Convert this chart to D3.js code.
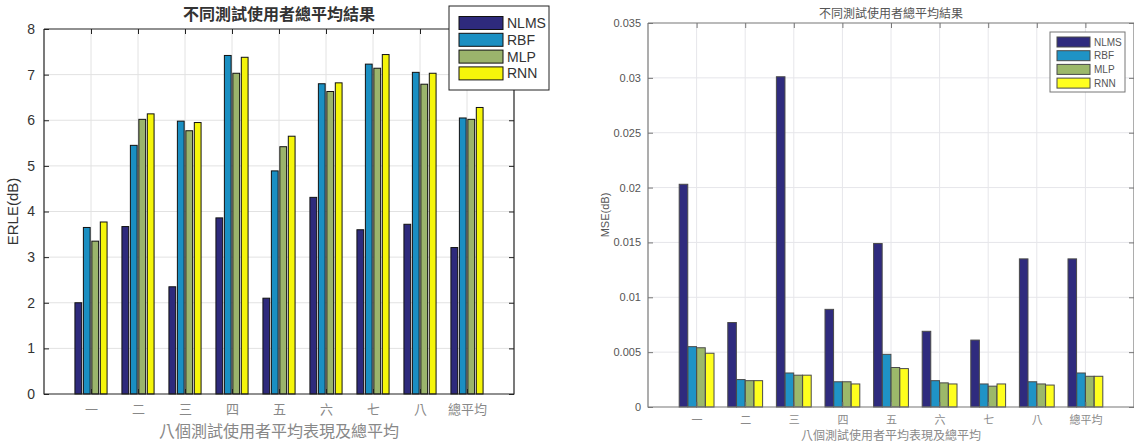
<!DOCTYPE html>
<html>
<head>
<meta charset="utf-8">
<script src="https://cdn.jsdelivr.net/npm/d3@7"></script>
<style>
  body { margin: 0; background: #fff; }
  svg { display: block; }
  .cjk { font-family: "Noto Sans CJK TC", "Noto Sans CJK SC", sans-serif; }
</style>
</head>
<body>
<svg id="chart" width="1134" height="443"></svg>
<script>
// categories and series
const categories = ['一', '二', '三', '四', '五', '六', '七', '八', '總平均'];
const series = ['NLMS', 'RBF', 'MLP', 'RNN'];

// left panel: ERLE(dB)
const erleNLMS = [2.00, 3.67, 2.35, 3.86, 2.10, 4.31, 3.60, 3.72, 3.21];
const erleRBF  = [3.65, 5.45, 5.98, 7.42, 4.89, 6.80, 7.23, 7.05, 6.05];
const erleMLP  = [3.35, 6.02, 5.77, 7.03, 5.42, 6.63, 7.14, 6.79, 6.02];
const erleRNN  = [3.77, 6.14, 5.95, 7.38, 5.65, 6.82, 7.44, 7.03, 6.28];
const erleTicks = [0, 1, 2, 3, 4, 5, 6, 7, 8];

// right panel: MSE(dB)
const mseNLMS = [0.0203, 0.0077, 0.0301, 0.0089, 0.0149, 0.0069, 0.0061, 0.0135, 0.0135];
const mseRBF  = [0.0055, 0.0025, 0.0031, 0.0023, 0.0048, 0.0024, 0.0021, 0.0023, 0.0031];
const mseMLP  = [0.0054, 0.0024, 0.0029, 0.0023, 0.0036, 0.0022, 0.0019, 0.0021, 0.0028];
const mseRNN  = [0.0049, 0.0024, 0.0029, 0.0021, 0.0035, 0.0021, 0.0021, 0.0020, 0.0028];
const mseTicks = [0, 0.005, 0.01, 0.015, 0.02, 0.025, 0.03, 0.035];
const mseTickLabels = ['0', '0.005', '0.01', '0.015', '0.02', '0.025', '0.03', '0.035'];

const titleText = '不同測試使用者總平均結果';
const xTitleText = '八個測試使用者平均表現及總平均';

const svg = d3.select('#chart');

const draw_panel = function(cfg){
    const m = cfg.box;   // plot rect in page pixels
    const g = svg.append('g');

    const x = d3.scaleLinear().domain([0, categories.length + 1]).range([m.left, m.right]);
    const y = d3.scaleLinear().domain([0, cfg.yMax]).range([m.bottom, m.top]);
    const sub = d3.scaleBand().domain(series).range([-0.36, 0.36]);
    const unit = x(1) - x(0);

    // grid
    g.append('g')
        .selectAll('line.hg')
        .data(cfg.ticks.slice(1, -1))
        .enter().append('line')
            .attr('x1', m.left).attr('x2', m.right)
            .attr('y1', d => y(d)).attr('y2', d => y(d))
            .attr('stroke', cfg.gridColor).attr('stroke-width', 1);
    g.append('g')
        .selectAll('line.vg')
        .data(categories)
        .enter().append('line')
            .attr('x1', (d, i) => x(i + 1)).attr('x2', (d, i) => x(i + 1))
            .attr('y1', m.top).attr('y2', m.bottom)
            .attr('stroke', cfg.gridColor).attr('stroke-width', 1);

    // bars
    series.forEach(function(s, si){
        const vals = cfg.values[si];
        g.append('g')
            .selectAll('rect')
            .data(vals)
            .enter().append('rect')
                .attr('x', (d, i) => x(i + 1) + sub(s) * unit + (1 - cfg.barFrac) * sub.bandwidth() * unit / 2)
                .attr('width', sub.bandwidth() * unit * cfg.barFrac)
                .attr('y', d => y(d))
                .attr('height', d => y(0) - y(d))
                .attr('fill', cfg.colors[si])
                .attr('stroke', cfg.edge)
                .attr('stroke-width', 1);
    });

    // box
    g.append('path')
        .attr('d', `M${m.left},${m.top}H${m.right}V${m.bottom}H${m.left}V${m.top}`)
        .attr('fill', 'none')
        .attr('stroke', cfg.axisColor)
        .attr('stroke-width', 1.2);

    const catTicks = categories.map((d, i) => i + 1);

    // axes with inward ticks
    const yAxis = g.append('g')
        .attr('transform', `translate(${m.left},0)`)
        .call(d3.axisLeft(y).tickValues(cfg.ticks).tickSize(-5).tickPadding(cfg.yPad)
            .tickFormat((d, i) => cfg.tickLabels[i]));
    const xAxis = g.append('g')
        .attr('transform', `translate(0,${m.bottom})`)
        .call(d3.axisBottom(x).tickValues(catTicks).tickSize(-5).tickPadding(cfg.xPad)
            .tickFormat((d, i) => categories[i]));
    g.append('g')
        .attr('transform', `translate(${m.right},0)`)
        .call(d3.axisRight(y).tickValues(cfg.ticks).tickSize(-5).tickFormat(''));
    g.append('g')
        .attr('transform', `translate(0,${m.top})`)
        .call(d3.axisTop(x).tickValues(catTicks).tickSize(-5).tickFormat(''));

    g.selectAll('.domain').remove();
    g.selectAll('.tick line').attr('stroke', cfg.axisColor);

    yAxis.selectAll('text')
        .style('font-family', 'Liberation Sans, Arial, sans-serif')
        .style('font-size', cfg.yFont + 'px')
        .attr('fill', cfg.yTickColor);
    xAxis.selectAll('text')
        .attr('class', 'cjk')
        .style('font-size', cfg.xFont + 'px')
        .attr('fill', cfg.xTickColor);

    // titles
    const cx = (m.left + m.right) / 2;
    g.append('text')
        .attr('class', 'cjk')
        .attr('x', cx).attr('y', cfg.titleY)
        .attr('text-anchor', 'middle')
        .style('font-size', cfg.titleFont + 'px')
        .style('font-weight', cfg.titleWeight)
        .attr('fill', cfg.titleColor)
        .text(titleText);
    g.append('text')
        .attr('class', 'cjk')
        .attr('x', cx).attr('y', cfg.xTitleY)
        .attr('text-anchor', 'middle')
        .style('font-size', cfg.xTitleFont + 'px')
        .attr('fill', cfg.xTickColor)
        .text(xTitleText);
    g.append('text')
        .attr('transform', `translate(${cfg.yTitleX},${(m.top + m.bottom) / 2}) rotate(-90)`)
        .attr('text-anchor', 'middle')
        .style('font-family', 'Liberation Sans, Arial, sans-serif')
        .style('font-size', cfg.yTitleFont + 'px')
        .attr('fill', cfg.yTickColor)
        .text(cfg.yTitle);

    // legend
    const L = cfg.legend;
    g.append('rect')
        .attr('x', L.x).attr('y', L.y).attr('width', L.w).attr('height', L.h)
        .attr('fill', '#fff').attr('stroke', cfg.axisColor).attr('stroke-width', 1);
    series.forEach(function(s, si){
        const cy = L.y + L.first + si * L.step;
        g.append('rect')
            .attr('x', L.x + L.sx).attr('y', cy - L.sh / 2)
            .attr('width', L.sw).attr('height', L.sh)
            .attr('fill', cfg.colors[si]).attr('stroke', cfg.edge).attr('stroke-width', 1);
        g.append('text')
            .attr('x', L.x + L.sx + L.sw + 4).attr('y', cy)
            .attr('dy', '0.36em')
            .style('font-family', 'Liberation Sans, Arial, sans-serif')
            .style('font-size', L.font + 'px')
            .attr('fill', cfg.yTickColor)
            .text(s);
    });
};

draw_panel({
    box: {left: 44, right: 514, top: 29, bottom: 394},
    yMax: 8, ticks: erleTicks, tickLabels: erleTicks.map(String),
    values: [erleNLMS, erleRBF, erleMLP, erleRNN],
    colors: ['#2e2a7c', '#1a8fc2', '#9bb46c', '#f5f50a'],
    edge: '#111', barFrac: 0.8,
    gridColor: '#e2e2e2', axisColor: '#222',
    yTickColor: '#333', xTickColor: '#888',
    yFont: 14, xFont: 13, yPad: 9, xPad: 11,
    titleY: 20, titleFont: 16, titleWeight: 'bold', titleColor: '#333',
    xTitleY: 437, xTitleFont: 16,
    yTitle: 'ERLE(dB)', yTitleX: 18, yTitleFont: 15,
    legend: {x: 449, y: 6, w: 100, h: 84, first: 17, step: 16.8, sx: 10, sw: 44, sh: 13, font: 14}
});

draw_panel({
    box: {left: 648, right: 1134, top: 23, bottom: 407},
    yMax: 0.035, ticks: mseTicks, tickLabels: mseTickLabels,
    values: [mseNLMS, mseRBF, mseMLP, mseRNN],
    colors: ['#2f2b7e', '#1f93c6', '#9cb86a', '#ffff1e'],
    edge: '#4a4a4a', barFrac: 0.98,
    gridColor: '#e6e6ea', axisColor: '#777',
    yTickColor: '#555', xTickColor: '#8a8a8a',
    yFont: 11, xFont: 11, yPad: 7, xPad: 9,
    titleY: 18, titleFont: 12, titleWeight: 'normal', titleColor: '#555',
    xTitleY: 440, xTitleFont: 12,
    yTitle: 'MSE(dB)', yTitleX: 609, yTitleFont: 11,
    legend: {x: 1050, y: 32, w: 75, h: 60, first: 10, step: 13.7, sx: 7, sw: 33, sh: 10, font: 10}
});
</script>
</body>
</html>
